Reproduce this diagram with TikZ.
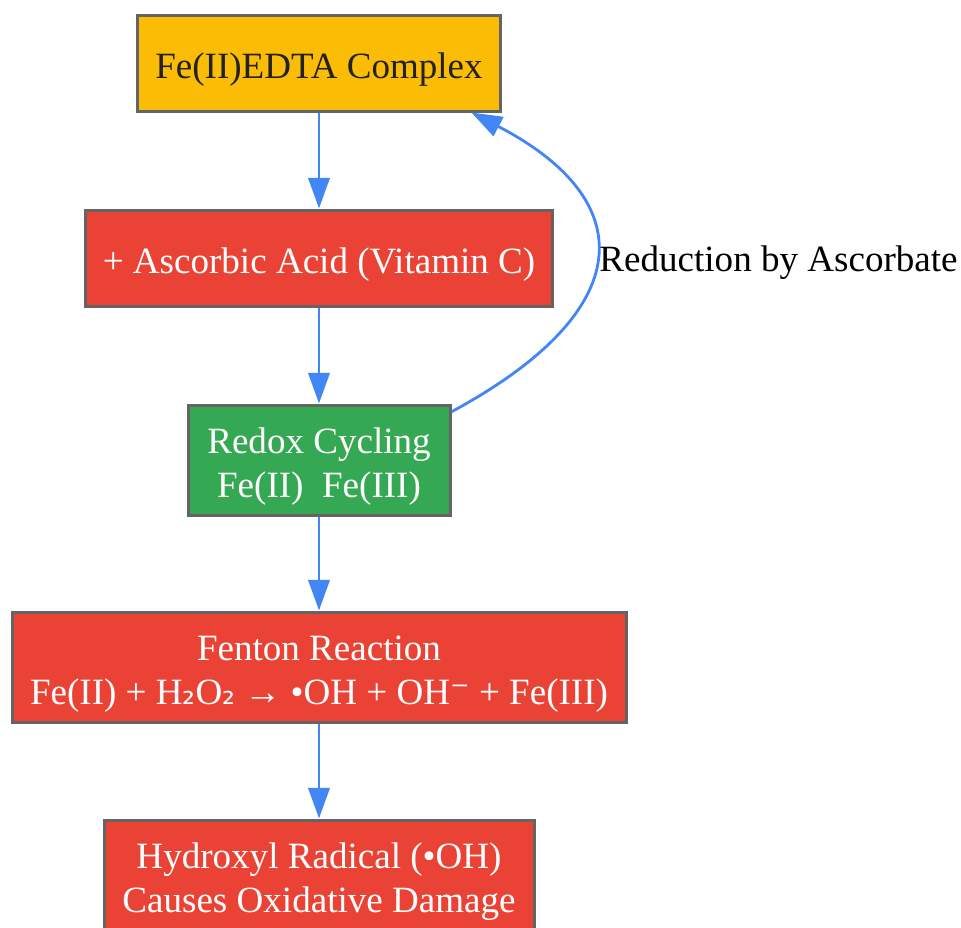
\documentclass[tikz,border=0pt]{standalone}
\usepackage{fontspec}
\setmainfont{Liberation Serif}
\newfontfamily\symfont{DejaVu Sans}
\usetikzlibrary{arrows.meta}

\definecolor{boxline}{RGB}{100,100,100}
\definecolor{gyellow}{RGB}{251,188,5}
\definecolor{gred}{RGB}{234,67,53}
\definecolor{ggreen}{RGB}{52,168,83}
\definecolor{gblue}{RGB}{66,133,244}
\definecolor{darktext}{RGB}{34,34,34}

\newcommand{\topstrut}{\rule{0pt}{28.5pt}}
\newcommand{\subtwo}{{\symfont\fontsize{24pt}{28pt}\selectfont ₂}}

\begin{document}
\begin{tikzpicture}[x=0.75pt,y=0.75pt,yscale=-1,xscale=1,
  stepbox/.style={draw=boxline,line width=2.25pt,align=center,inner sep=0pt,
    font=\fontsize{27.8pt}{33pt}\selectfont,text=white},
  flow/.style={draw=gblue,line width=2.1pt,-{Triangle[length=23pt,width=16pt]}}]
  \useasboundingbox (0,0) rectangle (961,928);

  % Boxes
  \node (fe) at (319,63) [stepbox,fill=gyellow,text=darktext,minimum width=272pt,minimum height=72pt] {\topstrut Fe(II)EDTA Complex};
  \node (asc) at (319,258) [stepbox,fill=gred,minimum width=350pt,minimum height=72pt] {\topstrut + Ascorbic Acid (Vitamin C)};
  \node (redox) at (319,460) [stepbox,fill=ggreen,minimum width=196.5pt,minimum height=82.5pt] {\topstrut Redox Cycling\\Fe(II)\ \ Fe(III)};
  \node (fenton) at (319,667) [stepbox,fill=gred,minimum width=460.5pt,minimum height=82.5pt] {\topstrut Fenton Reaction\\Fe(II) + H\subtwo O\subtwo{} → •OH + OH{\symfont ⁻} + Fe(III)};
  \node (oh) at (319,875) [stepbox,fill=gred,minimum width=322.5pt,minimum height=82.5pt] {\topstrut Hydroxyl Radical (•OH)\\Causes Oxidative Damage};

  % Arrows
  \draw [flow] (fe) -- (asc);
  \draw [flow] (asc) -- (redox);
  \draw [flow] (redox) -- (fenton);
  \draw [flow] (fenton) -- (oh);
  \draw [flow] (redox.20.5) .. controls (640,310) and (640,200) .. (fe.-18.3)
    node (lbl) [pos=0.5,anchor=west,inner sep=2pt,font=\fontsize{27.8pt}{33pt}\selectfont] {\topstrut Reduction by Ascorbate};

\end{tikzpicture}
\end{document}
